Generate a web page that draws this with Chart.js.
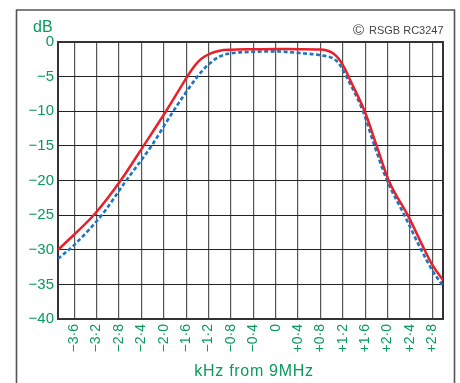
<!DOCTYPE html>
<html><head><meta charset="utf-8">
<script src="https://cdn.jsdelivr.net/npm/chart.js@4/dist/chart.umd.min.js"></script>
<style>html,body{margin:0;padding:0;background:#fff;overflow:hidden}canvas{display:block}</style>
</head><body><canvas id="c" width="460" height="383"></canvas>
<script>
// ---- data ----
const freqRed = [-3.89, -3.6, -3.23, -2.77, -2.37, -1.96, -1.58, -1.49, -1.38, -1.27, -1.15, -1.0, -0.8, -0.4, 0, 0.4, 0.8, 0.9, 1.0, 1.08, 1.16, 1.24, 1.32, 1.59, 1.81, 2.02, 2.36, 2.66, 2.8, 2.99];
const dbRed   = [-30, -27.8, -24.8, -20, -15.1, -10, -5, -3.9, -2.8, -2.1, -1.6, -1.25, -1.12, -1.05, -1.0, -1.05, -1.1, -1.2, -1.5, -2.0, -2.8, -3.9, -5.3, -10, -15.1, -20, -25, -30, -32.2, -34.4];
const freqBlue = [-3.89, -3.6, -3.11, -2.67, -2.22, -1.83, -1.40, -1.26, -1.12, -1.0, -0.85, -0.64, -0.34, 0, 0.43, 0.79, 1.03, 1.14, 1.23, 1.56, 1.77, 1.99, 2.3, 2.6, 2.8, 2.99];
const dbBlue   = [-31.3, -29.3, -25, -20, -15, -10, -5, -3.7, -2.7, -2.1, -1.7, -1.5, -1.4, -1.35, -1.6, -1.9, -2.4, -3.2, -4.5, -10, -15.1, -20, -25, -30, -33, -35.2];
const xTickValues = [-3.6, -3.2, -2.8, -2.4, -2.0, -1.6, -1.2, -0.8, -0.4, 0, 0.4, 0.8, 1.2, 1.6, 2.0, 2.4, 2.8];
const xTickLabels = ['\u22123\u00b76','\u22123\u00b72','\u22122\u00b78','\u22122\u00b74','\u22122\u00b70','\u22121\u00b76','\u22121\u00b72','\u22120\u00b78','\u22120\u00b74','0','+0\u00b74','+0\u00b78','+1\u00b72','+1\u00b76','+2\u00b70','+2\u00b74','+2\u00b78'];
const yTickValues = [0, -5, -10, -15, -20, -25, -30, -35, -40];
const yTickLabels = ['0','\u22125','\u221210','\u221215','\u221220','\u221225','\u221230','\u221235','\u221240'];
const xTitle = 'kHz from 9MHz';
const xMin = -3.89, xMax = 2.99;

const GREEN = '#0a9a5a';
const FAMILY = "'Liberation Sans', Arial, sans-serif";
Chart.defaults.font.family = FAMILY;

const extras = {
  id: 'extras',
  beforeDatasetsDraw(chart) {
    const {ctx, chartArea: a} = chart;
    ctx.save();
    ctx.strokeStyle = '#333';
    ctx.lineWidth = 2;
    ctx.strokeRect(a.left, a.top, a.right - a.left, a.bottom - a.top);
    ctx.restore();
  },
  afterDraw(chart) {
    const ctx = chart.ctx;
    ctx.save();
    ctx.strokeStyle = '#555';
    ctx.lineWidth = 1.6;
    ctx.beginPath();
    ctx.moveTo(16.5, 400); ctx.lineTo(16.5, 10); ctx.lineTo(454.5, 10); ctx.lineTo(454.5, 400);
    ctx.stroke();
    ctx.fillStyle = GREEN;
    ctx.textAlign = 'left';
    ctx.textBaseline = 'alphabetic';
    ctx.font = "16px " + FAMILY;
    ctx.fillText('dB', 33, 32);
    // axis title
    ctx.textAlign = 'center';
    ctx.font = "16px " + FAMILY;
    try { ctx.letterSpacing = '0.7px'; } catch (e) {}
    ctx.fillText(xTitle, 254, 376);
    try { ctx.letterSpacing = '0px'; } catch (e) {}
    ctx.textAlign = 'left';
    ctx.fillStyle = '#444';
    ctx.font = "15px " + FAMILY;
    ctx.fillText('\u00a9', 353, 34.5);
    ctx.font = "11px " + FAMILY;
    ctx.fillText('RSGB RC3247', 369, 33.5);
    ctx.restore();
  }
};

new Chart(document.getElementById('c'), {
  type: 'line',
  data: {
    datasets: [
      { data: freqRed.map((f, i) => ({x: f, y: dbRed[i]})), borderColor: '#e8202a', borderWidth: 2.5,
        pointRadius: 0, cubicInterpolationMode: 'monotone', fill: false },
      { data: freqBlue.map((f, i) => ({x: f, y: dbBlue[i]})), borderColor: '#1b75c2', borderWidth: 2.6,
        borderDash: [4, 2.5], pointRadius: 0, cubicInterpolationMode: 'monotone', fill: false }
    ]
  },
  options: {
    responsive: false, animation: false, devicePixelRatio: 1,
    layout: { padding: { left: 0, right: 17, top: 42, bottom: 0 } },
    plugins: { legend: { display: false }, tooltip: { enabled: false } },
    scales: {
      x: {
        type: 'linear', min: xMin, max: xMax,
        afterFit(s) { s.height = 64; },
        afterBuildTicks(s) { s.ticks = xTickValues.map(v => ({value: v})); },
        ticks: { minRotation: 90, maxRotation: 90, padding: 5, color: GREEN, autoSkip: false,
          font: { size: 14 }, callback: (v, i) => xTickLabels[i] },
        grid: { color: '#555', lineWidth: 1.2, drawTicks: false },
        border: { display: false },
        title: { display: false }
      },
      y: {
        min: -40, max: 0,
        afterFit(s) { s.width = 58; },
        afterBuildTicks(s) { s.ticks = yTickValues.map(v => ({value: v})); },
        ticks: { padding: 4, color: GREEN, font: { size: 15 }, callback: (v, i) => yTickLabels[i] },
        grid: { color: '#222', lineWidth: 1, drawTicks: false },
        border: { display: false }
      }
    }
  },
  plugins: [extras]
});
</script></body></html>
